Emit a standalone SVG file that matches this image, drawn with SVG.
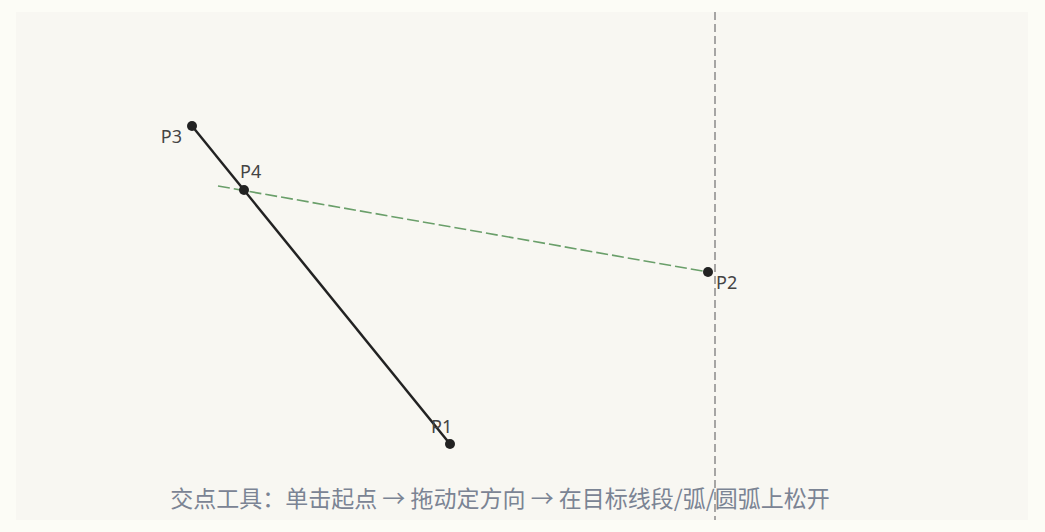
<svg xmlns="http://www.w3.org/2000/svg" width="1045" height="532" viewBox="0 0 1045 532">
<style>
.lbl{font-family:"Noto Sans","Noto Sans CJK SC",sans-serif;font-size:18px;fill:#444}
.pt{fill:#222}
.cap{font-family:"Noto Sans CJK SC","Noto Sans",sans-serif;font-size:23px;fill:#7b8494}
</style>
<rect x="0" y="0" width="1045" height="532" fill="#fcfcf6"/>
<rect x="16" y="12" width="1012" height="508" fill="#f8f7f2"/>
<g id="connectors">
<line x1="715" y1="12" x2="715" y2="520" stroke="#8a8a8a" stroke-width="1.5" stroke-dasharray="8 4"/>
<line x1="218" y1="186" x2="708" y2="272" stroke="#6a9f6a" stroke-width="1.6" stroke-dasharray="12 4"/>
<line x1="192" y1="126" x2="450" y2="444" stroke="#222" stroke-width="2.5"/>
</g>
<g id="P3"><circle class="pt" cx="192" cy="126" r="5"/><text class="lbl" x="182" y="143" text-anchor="end">P3</text></g>
<g id="P4"><circle class="pt" cx="244" cy="190" r="5"/><text class="lbl" x="240" y="178">P4</text></g>
<g id="P2"><circle class="pt" cx="708" cy="272" r="5"/><text class="lbl" x="716" y="289">P2</text></g>
<g id="P1"><circle class="pt" cx="450" cy="444" r="5"/><text class="lbl" x="431" y="433">P1</text></g>
<text class="cap" x="500" y="507" text-anchor="middle">交点工具：单击起点 → 拖动定方向 → 在目标线段/弧/圆弧上松开</text>
</svg>
